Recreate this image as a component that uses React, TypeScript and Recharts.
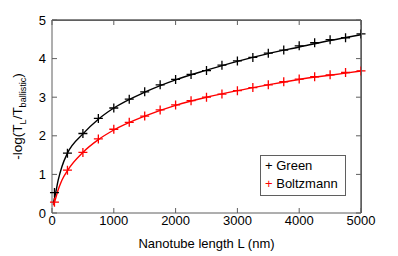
import React from 'react';
import { ComposedChart, Line, Scatter, XAxis, YAxis, Legend, Label, ReferenceLine } from 'recharts';

// marker positions along the nanotube (nm)
const markerL = [40, 250, 500, 750, 1000, 1250, 1500, 1750, 2000, 2250, 2500, 2750, 3000, 3250, 3500, 3750, 4000, 4250, 4500, 4750, 5000];
const greenMarks = [0.53, 1.55, 2.06, 2.45, 2.72, 2.95, 3.14, 3.32, 3.46, 3.59, 3.69, 3.83, 3.94, 4.03, 4.14, 4.22, 4.33, 4.41, 4.49, 4.54, 4.64];
const boltzMarks = [0.28, 1.11, 1.57, 1.92, 2.17, 2.35, 2.51, 2.67, 2.8, 2.91, 3.0, 3.08, 3.17, 3.25, 3.32, 3.4, 3.47, 3.53, 3.58, 3.64, 3.68];

// fitted curves
const fitL = [20, 50, 100, 160, 250, 500, 750, 1000, 1500, 2000, 2500, 3000, 3500, 4000, 4500, 5000];
const greenFit = [0.25, 0.45, 0.85, 1.2, 1.55, 2.05, 2.43, 2.72, 3.13, 3.45, 3.7, 3.93, 4.13, 4.3, 4.47, 4.62];
const boltzFit = [0.2, 0.33, 0.6, 0.85, 1.1, 1.57, 1.9, 2.15, 2.51, 2.79, 3.0, 3.17, 3.32, 3.46, 3.57, 3.68];

const xTicks = [0, 1000, 2000, 3000, 4000, 5000];
const yTicks = [0, 1, 2, 3, 4, 5];
const xMax = 5000;
const yMax = 5;

const seriesNames = ['Green', 'Boltzmann'];
const seriesColors = ['#000000', '#ff0000'];

const toPoints = (xs: number[], ys: number[]) => xs.map((x, i) => ({ x, y: ys[i] }));

const FONT = '"Liberation Sans", Arial, Helvetica, sans-serif';
const AXIS = '#5f5f5f';

const W = 398;
const H = 256;
const margin = { top: 0, right: 17, bottom: 23, left: 12 };
const AXIS_W = 40;
const AXIS_H = 20;
const MIRROR = 20;

const noLabel = () => <g />;

const plus = (color: string) => (props: any) => {
  const { cx, cy } = props;
  return <path d={`M${cx - 4.5},${cy}h9M${cx},${cy - 4.5}v9`} stroke={color} strokeWidth={1.3} fill="none" />;
};

const LegendBox = () => (
  <div style={{ border: `1px solid ${AXIS}`, background: '#fff', padding: '1px 4px 2px 4px', fontFamily: FONT, fontSize: 13, lineHeight: '18px', width: 76, boxSizing: 'content-box' }}>
    {seriesNames.map((n, i) => (
      <div key={n} style={{ whiteSpace: 'nowrap' }}>
        <span style={{ color: seriesColors[i] }}>+</span> {n}
      </div>
    ))}
  </div>
);

const YLabel = (props: any) => {
  const vb = props.viewBox || {};
  const cy = vb.y + vb.height / 2;
  return (
    <text transform={`translate(22, ${cy}) rotate(-90)`} textAnchor="middle" fontFamily={FONT} fontSize={13.5} fill="#000">
      -log(T<tspan fontSize={9} dy={4}>L</tspan><tspan dy={-4}>/T</tspan><tspan fontSize={9} dy={4}>ballistic</tspan><tspan dy={-4}>)</tspan>
    </text>
  );
};

const XLabel = (props: any) => {
  const vb = props.viewBox || {};
  return (
    <text x={vb.x + vb.width / 2} y={248} textAnchor="middle" fontFamily={FONT} fontSize={13} fill="#000">
      Nanotube length L (nm)
    </text>
  );
};

export default function App() {
  const plotLeft = margin.left + AXIS_W;
  const plotTop = margin.top + MIRROR;
  const plotW = W - plotLeft - margin.right - MIRROR;
  const plotH = H - plotTop - margin.bottom - AXIS_H;
  return (
    <div style={{ position: 'absolute', left: 0, top: 0, background: '#fff' }}>
      <ComposedChart width={W} height={H} margin={margin}>
        <XAxis xAxisId="b" type="number" dataKey="x" domain={[0, xMax]} ticks={xTicks} orientation="bottom" height={AXIS_H}
          stroke={AXIS} tickSize={-5} tickMargin={8} tick={{ fill: '#000', fontSize: 13, fontFamily: FONT }}>
          <Label content={<XLabel />} />
        </XAxis>
        <XAxis xAxisId="t" type="number" dataKey="x" domain={[0, xMax]} ticks={xTicks} orientation="top" height={MIRROR}
          stroke={AXIS} tickSize={-5} tick={noLabel} />
        <YAxis yAxisId="l" type="number" domain={[0, yMax]} ticks={yTicks} orientation="left" width={AXIS_W}
          stroke={AXIS} tickSize={-5} tickMargin={11} tick={{ fill: '#000', fontSize: 13, fontFamily: FONT }}>
          <Label content={<YLabel />} />
        </YAxis>
        <YAxis yAxisId="r" type="number" domain={[0, yMax]} ticks={yTicks} orientation="right" width={MIRROR}
          stroke={AXIS} tickSize={-5} tick={noLabel} />
        <ReferenceLine xAxisId="b" yAxisId="l" y={yMax} stroke={AXIS} ifOverflow="visible" />
        <ReferenceLine xAxisId="b" yAxisId="l" x={xMax} stroke={AXIS} ifOverflow="visible" />
        <Line xAxisId="t" yAxisId="r" data={toPoints(fitL, greenFit)} dataKey="y" stroke="none" dot={false}
          isAnimationActive={false} legendType="none" />
        <Line xAxisId="b" yAxisId="l" data={toPoints(fitL, greenFit)} dataKey="y" type="monotone" stroke={seriesColors[0]}
          strokeWidth={1.4} dot={false} isAnimationActive={false} legendType="none" />
        <Line xAxisId="b" yAxisId="l" data={toPoints(fitL, boltzFit)} dataKey="y" type="monotone" stroke={seriesColors[1]}
          strokeWidth={1.4} dot={false} isAnimationActive={false} legendType="none" />
        <Scatter xAxisId="b" yAxisId="l" name={seriesNames[0]} data={toPoints(markerL, greenMarks)} dataKey="y"
          fill={seriesColors[0]} shape={plus(seriesColors[0])} isAnimationActive={false} />
        <Scatter xAxisId="b" yAxisId="l" name={seriesNames[1]} data={toPoints(markerL, boltzMarks)} dataKey="y"
          fill={seriesColors[1]} shape={plus(seriesColors[1])} isAnimationActive={false} />
        <Legend content={<LegendBox />} layout="vertical" align="center" verticalAlign="middle"
          wrapperStyle={{ left: 260, top: 155, width: 'auto', height: 'auto' }} />
      </ComposedChart>
      {/* top and right sides of the box */}
      <div style={{
        position: 'absolute', left: plotLeft, top: plotTop - 0.5, width: plotW + 0.5, height: plotH,
        borderTop: `1px solid ${AXIS}`, borderRight: `1px solid ${AXIS}`, boxSizing: 'border-box', pointerEvents: 'none',
      }} />
    </div>
  );
}
